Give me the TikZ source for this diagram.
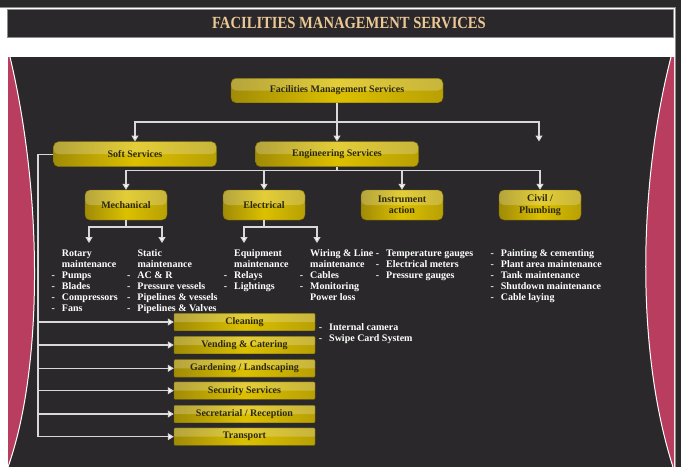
\documentclass[tikz,border=0pt]{standalone}
\usepackage{fontspec}
\setmainfont{Liberation Serif}
\newfontfamily\headfont[FakeStretch=0.86]{Liberation Serif}
\usetikzlibrary{arrows.meta}

\definecolor{outer}{HTML}{2B2A2B}
\definecolor{panel}{HTML}{2A282A}
\definecolor{rim}{HTML}{8C8C8C}
\definecolor{rose}{HTML}{B83D5E}
\definecolor{wire}{HTML}{D8D8D8}
\definecolor{tan}{HTML}{EBC895}
\definecolor{ink}{HTML}{2C2810}
\definecolor{goldL}{HTML}{A08B06}
\definecolor{goldM}{HTML}{DCC000}
\definecolor{goldR}{HTML}{B8A004}
\definecolor{goldrim}{HTML}{7A6A05}

\newcommand\dashitem{\llap{-\hspace{7pt}}}

\tikzset{
  goldbox/.style={draw=goldrim, line width=.4pt, rounded corners=5pt,
    left color=goldL, right color=goldR, middle color=goldM,
    text=ink, font=\bfseries\fontsize{10}{11.4}\selectfont, align=center, inner sep=1pt,
    path picture={\fill[white,opacity=.22] (path picture bounding box.north west) rectangle (path picture bounding box.east);}},
  topbox/.style={goldbox, minimum width=163pt, minimum height=25pt},
  subbox/.style={goldbox, minimum width=82pt, minimum height=30pt},
  softbox/.style={goldbox, minimum width=141pt, minimum height=17.5pt, rounded corners=1pt},
  wireline/.style={draw=wire, line width=1.1pt},
  arr/.style={wireline, -{Triangle[width=7pt,length=6pt,fill=white]}},
  listtext/.style={anchor=north west, inner sep=0pt, align=left, text=white,
    font=\bfseries\fontsize{10}{11}\selectfont},
}

\begin{document}
\begin{tikzpicture}[x=1pt,y=-1pt]
\useasboundingbox (0,0) rectangle (681,467);

% slide surround
\fill[outer] (0,0) rectangle (681,467);
\fill[white] (0,7) rectangle (675,467);
\draw[rim, line width=.6pt] (0,7) -- (675,7) -- (675,467);

% title bar
\node[fill=panel, draw=rim, line width=.8pt, minimum width=666pt, minimum height=28pt, inner sep=0pt]
      (title) at (340,23) {};
\node[text=tan, font=\headfont\bfseries\fontsize{17}{20}\selectfont, inner sep=0pt]
      (titletext) at (349,22.5) {FACILITIES MANAGEMENT SERVICES};

% dark panel with rose side arcs
\fill[panel] (8,57) rectangle (674,467);
\fill[rose] (8,57) -- (10,57) .. controls (44,200) and (42,372) .. (8,467) -- cycle;
\draw[white, line width=1pt] (10,57) .. controls (44,200) and (42,372) .. (8,467);
\fill[rose] (674,57) -- (671,57) .. controls (637,190) and (637,355) .. (673,467) -- (674,467) -- cycle;
\draw[white, line width=1pt] (671,57) .. controls (637,190) and (637,355) .. (673,467);

% top level
\node[goldbox, minimum width=212pt, minimum height=24.5pt] (fms) at (337,90.5) {Facilities Management Services};
\node[topbox] (soft) at (135,154.2) {Soft Services};
\node[topbox] (eng) at (337,154.2) {Engineering Services};
\coordinate (hb) at (337,122);
\coordinate (spare) at (539,141.5);
\draw[arr] (fms.south) -- (eng.north);
\draw[arr] (hb) -| (soft.north);
\draw[arr] (hb) -| (spare);

% engineering branches
\node[subbox] (mech) at (126,205) {Mechanical};
\node[subbox] (elec) at (264,205) {Electrical};
\node[subbox] (instr) at (402,205) {Instrument\\action};
\node[subbox] (civil) at (540,205) {Civil /\\Plumbing};
\coordinate (hb2) at (337,170.7);
\draw[wireline] (eng.south) -- (hb2);
\draw[arr] (hb2) -| (mech.north);
\draw[arr] (hb2) -| (elec.north);
\draw[arr] (hb2) -| (instr.north);
\draw[arr] (hb2) -| (civil.north);

% mechanical and electrical splits
\coordinate (hb3) at (126,227);
\coordinate (rot) at (89,243);
\coordinate (stat) at (162,243);
\draw[wireline] (mech.south) -- (hb3);
\draw[arr] (hb3) -| (rot);
\draw[arr] (hb3) -| (stat);
\coordinate (hb4) at (264,227);
\coordinate (equip) at (244,243);
\coordinate (wiring) at (317,243);
\draw[wireline] (elec.south) -- (hb4);
\draw[arr] (hb4) -| (equip);
\draw[arr] (hb4) -| (wiring);

% task lists
\node[listtext] (l1) at (61.7,249.5) {Rotary\\maintenance\\\dashitem Pumps\\\dashitem Blades\\\dashitem Compressors\\\dashitem Fans};
\node[listtext] (l2) at (137.3,249.5) {Static\\maintenance\\\dashitem AC \& R\\\dashitem Pressure vessels\\\dashitem Pipelines \& vessels\\\dashitem Pipelines \& Valves};
\node[listtext] (l3) at (234,249.5) {Equipment\\maintenance\\\dashitem Relays\\\dashitem Lightings};
\node[listtext] (l4) at (310,249.5) {Wiring \& Line\\maintenance\\\dashitem Cables\\\dashitem Monitoring\\Power loss};
\node[listtext] (l5) at (386,249.5) {\dashitem Temperature gauges\\\dashitem Electrical meters\\\dashitem Pressure gauges};
\node[listtext] (l6) at (500.7,249.5) {\dashitem Painting \& cementing\\\dashitem Plant area maintenance\\\dashitem Tank maintenance\\\dashitem Shutdown maintenance\\\dashitem Cable laying};

% soft services
\node[softbox] (clean) at (244.5,322) {Cleaning};
\node[softbox] (vend) at (244.5,345) {Vending \& Catering};
\node[softbox] (garden) at (244.5,368.3) {Gardening / Landscaping};
\node[softbox] (secur) at (244.5,390.7) {Security Services};
\node[softbox] (secr) at (244.5,414) {Secretarial / Reception};
\node[softbox] (trans) at (244.5,436.7) {Transport};
\coordinate (lv) at (38,436.7);
\draw[wireline] (soft.west) -| (lv);
\foreach \b in {clean,vend,garden,secur,secr,trans}
  \draw[arr] (\b.west -| lv) -- (\b.west);

\node[listtext] (l7) at (329,323) {\dashitem Internal camera\\\dashitem Swipe Card System};
\end{tikzpicture}
\end{document}
